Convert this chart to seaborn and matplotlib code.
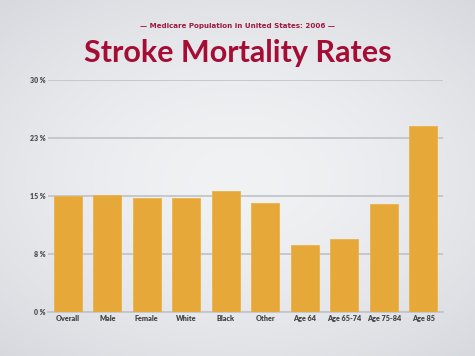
import numpy as np
import pandas as pd
import matplotlib
matplotlib.use('Agg')
import matplotlib.pyplot as plt
import seaborn as sns

groups = ["Overall", "Male", "Female", "White", "Black", "Other",
          "Age 64", "Age 65-74", "Age 75-84", "Age 85"]
rates = [15.0, 15.1, 14.8, 14.8, 15.7, 14.1, 8.7, 9.5, 14.0, 24.0]
yticks = [0, 7.5, 15, 22.5, 30]
ytick_labels = ["0 %", "8 %", "15 %", "23 %", "30 %"]

sns.set_theme(style="white")
plt.rcParams['font.family'] = ['Lato', 'DejaVu Sans']

df = pd.DataFrame({"group": groups, "rate": rates})

fig = plt.figure(figsize=(4.75, 3.56), dpi=100)

# soft radial background
bg = fig.add_axes([0, 0, 1, 1], zorder=-10)
yy, xx = np.mgrid[-1:1:200j, -1:1:260j]
r = np.sqrt((xx * 0.9) ** 2 + (yy * 1.0) ** 2)
light = np.array([0.945, 0.949, 0.957])
dark = np.array([0.84, 0.85, 0.87])
img = light + (dark - light) * np.clip(r / 1.35, 0, 1)[..., None] ** 1.6
bg.imshow(img, extent=[0, 1, 0, 1], aspect="auto")
bg.axis("off")

ax = fig.add_axes([0.101, 0.1236, 0.832, 0.6514])
ax.patch.set_alpha(0)
sns.barplot(data=df, x="group", y="rate", color="#e6a838", saturation=1,
            width=0.71, ax=ax, zorder=3, edgecolor="#ebb24a", linewidth=0.6)

ax.set_ylim(0, 30)
ax.set_xlim(-0.5, 9.5)
ax.set_yticks(yticks)
ax.set_yticklabels(ytick_labels)
ax.yaxis.grid(True, color="#c4c5ca", linewidth=1.3, zorder=0)
ax.set_axisbelow(True)
for s in ["top", "right", "left"]:
    ax.spines[s].set_visible(False)
ax.spines["bottom"].set_color("#c4c5ca")
ax.spines["bottom"].set_linewidth(1.3)
ax.tick_params(axis="both", length=0, pad=2)
for lab in ax.get_yticklabels():
    lab.set_fontsize(5)
    lab.set_fontweight("heavy")
    lab.set_color("#4a4a4a")
for lab in ax.get_xticklabels():
    lab.set_fontsize(5.2)
    lab.set_fontweight("heavy")
    lab.set_color("#454545")
ax.set_xlabel("")
ax.set_ylabel("")

fig.text(0.5, 0.927, "\u2014 Medicare Population in United States: 2006 \u2014",
         ha="center", va="center", fontsize=5.1, color="#a0183f",
         fontweight="bold", family="DejaVu Sans")
fig.text(0.5, 0.85, "Stroke Mortality Rates", ha="center", va="center",
         fontsize=22, color="#a50d35", fontweight="bold")

fig.savefig("out.png", dpi=100)
plt.close()
